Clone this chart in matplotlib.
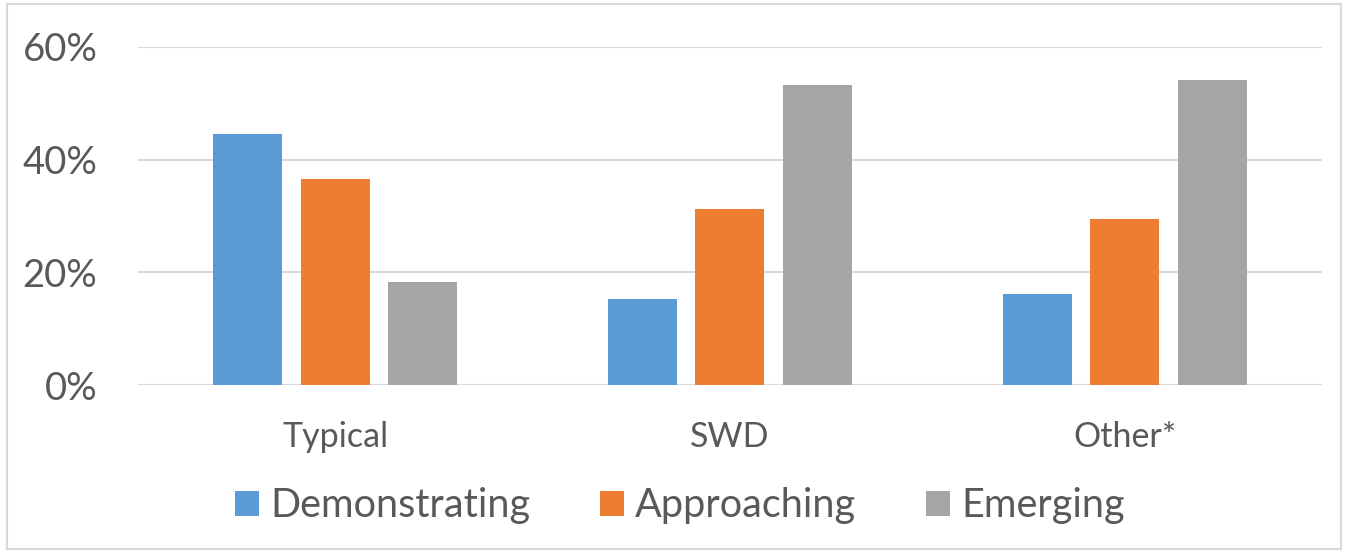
import matplotlib
matplotlib.use("Agg")
import matplotlib.pyplot as plt
import numpy as np
from matplotlib.patches import Rectangle
from matplotlib.ticker import FuncFormatter

categories = ["Typical", "SWD", "Other*"]
series_names = ["Demonstrating", "Approaching", "Emerging"]
demonstrating = [44.6, 15.2, 16.2]
approaching = [36.6, 31.3, 29.4]
emerging = [18.3, 53.2, 54.1]
y_ticks = [0, 20, 40, 60]

colors = ["#5B9BD5", "#ED7D31", "#A5A5A5"]
text_color = "#595959"
grid_color = "#D9D9D9"

plt.rcParams['font.family'] = ['Lato', 'DejaVu Sans']

W, H = 1349, 552
fig = plt.figure(figsize=(W / 100, H / 100), dpi=100)
ax = fig.add_axes([137.7 / W, 167 / H, (1322 - 137.7) / W, (385 - 47) / H])

x = np.arange(len(categories))
bw = 0.175
offs = [-0.2215, 0, 0.2215]
for vals, name, c, o in zip([demonstrating, approaching, emerging], series_names, colors, offs):
    ax.bar(x + o, vals, width=bw, color=c, label=name, zorder=3)

ax.set_xlim(-0.5, 2.5)
ax.set_ylim(0, 60)
ax.set_yticks(y_ticks)
ax.yaxis.set_major_formatter(FuncFormatter(lambda v, p: f"{v:.0f}%"))
ax.set_xticks(x)
ax.set_xticklabels(categories)
ax.grid(axis='y', color=grid_color, linewidth=1.5, zorder=0)
for s in ax.spines.values():
    s.set_visible(False)
ax.tick_params(axis='y', length=0, pad=29, labelsize=27.5, labelcolor=text_color)
ax.tick_params(axis='x', length=0, pad=26, labelsize=24.5, labelcolor=text_color)

fs = 28.5
px = fs * 100 / 72
leg = fig.legend(loc='center', bbox_to_anchor=(680 / W, 1 - 506 / H), ncol=3, frameon=False,
                 fontsize=fs, handlelength=24 / px, handleheight=24 / px, handletextpad=11 / px,
                 columnspacing=70 / px, borderpad=0)
for t in leg.get_texts():
    t.set_color(text_color)

fig.patches.append(Rectangle((7 / W, 3 / H), (1341 - 7) / W, (548 - 3) / H, transform=fig.transFigure,
                             fill=False, edgecolor=grid_color, linewidth=1.5))

fig.savefig("out.png", dpi=100)
